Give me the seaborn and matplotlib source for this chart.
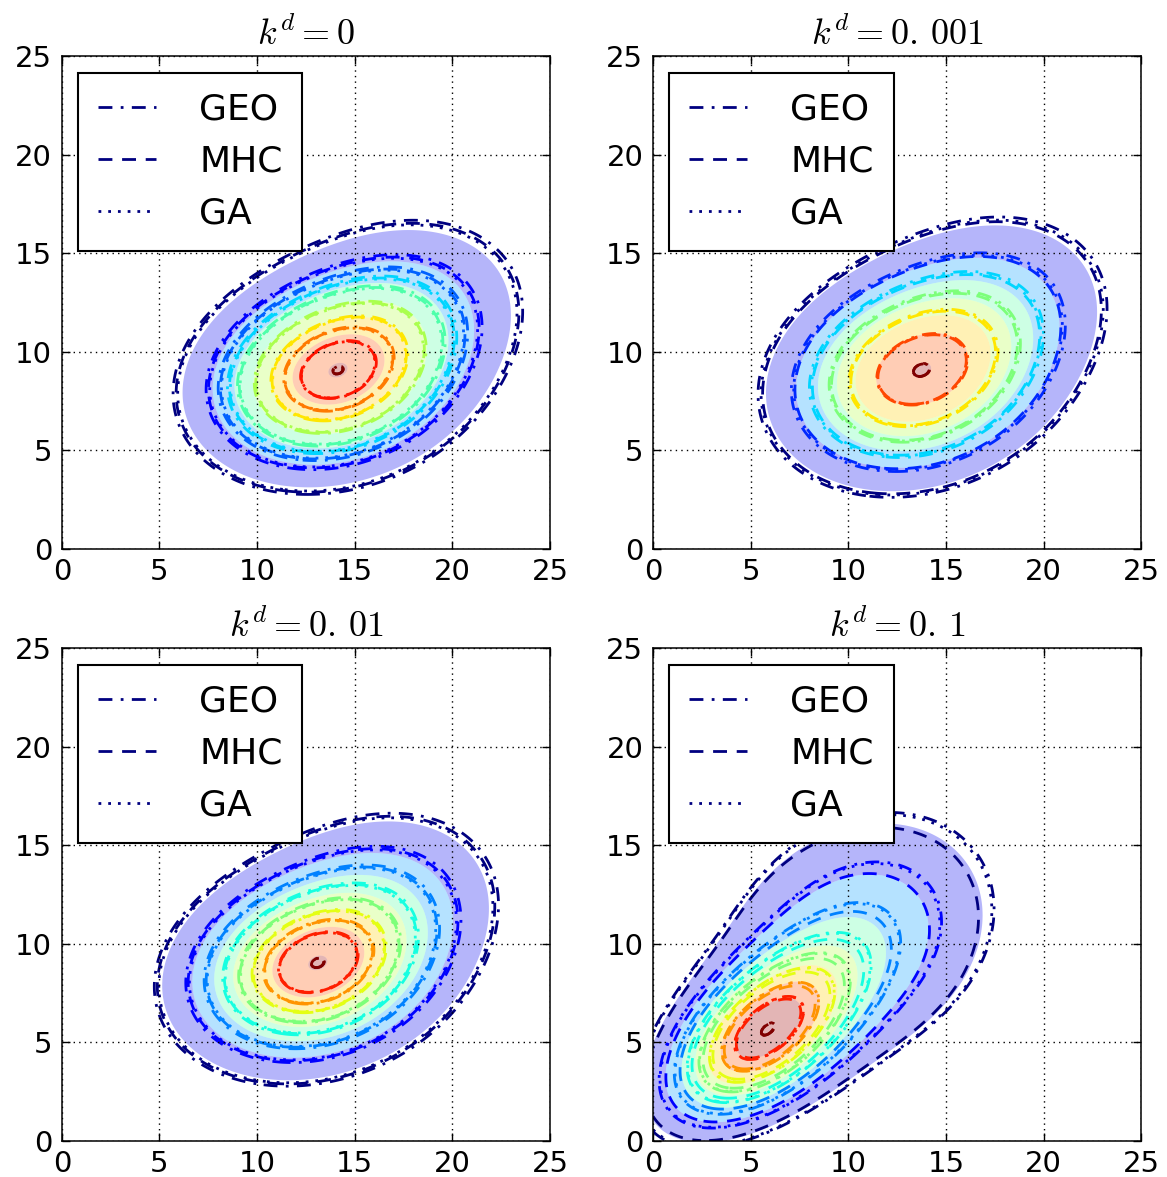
import numpy as np
import matplotlib
matplotlib.use("Agg")
import matplotlib.pyplot as plt
import seaborn as sns
from matplotlib.lines import Line2D

# ---------------- data ----------------
kd_values = ["0", "0.001", "0.01", "0.1"]
methods = ["GEO", "MHC", "GA"]

# core component of each panel's density (innermost rings)
core_x = [13.7, 13.3, 12.65, 5.5]
core_y = [8.7, 8.7, 8.65, 5.3]
core_sx = [3.9, 3.9, 3.9, 3.0]
core_sy = [2.9, 3.0, 2.9, 2.7]
core_rho = [0.15, 0.15, 0.15, 0.50]
core_w = [0.75, 0.75, 0.75, 0.50]

# broad component (outer bulge towards the upper right)
broad_x = [17.6, 17.4, 16.5, 10.5]
broad_y = [12.2, 12.3, 12.2, 10.3]
broad_sx = [4.1, 4.1, 4.0, 4.6]
broad_sy = [3.2, 3.3, 3.2, 4.2]
broad_rho = [0.15, 0.15, 0.15, 0.20]

# spread of each method's density relative to the shaded density
geo_spread = [1.02, 1.02, 1.02, 1.05]
mhc_spread = [1.00, 0.99, 1.00, 0.98]
ga_spread = [0.99, 1.00, 0.99, 1.04]

# contour-line levels (fraction of the peak density), one list per panel
levels_kd0 = [0.12, 0.26, 0.33, 0.39, 0.46, 0.585, 0.71, 0.80, 0.90, 0.998]
levels_kd1 = [0.125, 0.27, 0.38, 0.52, 0.67, 0.86, 0.995]
levels_kd2 = [0.125, 0.26, 0.37, 0.50, 0.62, 0.72, 0.80, 0.89, 0.997]
levels_kd3 = [0.125, 0.24, 0.35, 0.46, 0.57, 0.67, 0.78, 0.88, 0.995]
line_levels = [levels_kd0, levels_kd1, levels_kd2, levels_kd3]

# shaded bands: level of the top band (fraction of the peak), 7 bands each
fill_top = [0.993, 0.993, 0.993, 0.880]
n_bands = 7
band_colors = [0.10, 0.28, 0.45, 0.57, 0.69, 0.82, 0.97]

# ---------------- style ----------------
sns.set_style("ticks")
plt.rcParams.update({
    "font.family": ["DejaVu Sans"],
    "mathtext.fontset": "cm",
    "text.color": "black",
    "axes.labelcolor": "black",
    "xtick.direction": "in",
    "ytick.direction": "in",
    "xtick.top": True,
    "ytick.right": True,
    "xtick.major.size": 6,
    "ytick.major.size": 6,
    "xtick.major.width": 1.0,
    "ytick.major.width": 1.0,
    "axes.linewidth": 1.1,
    "axes.edgecolor": "black",
    "xtick.color": "black",
    "ytick.color": "black",
})

line_styles = [(0, (5, 3, 1, 3)), (0, (5, 3.5)), (0, (1, 2.5))]
spreads = [geo_spread, mhc_spread, ga_spread]

gx = np.linspace(0, 25, 301)
X, Y = np.meshgrid(gx, gx)


def gauss(U, V, mx, my, sx, sy, rho):
    du = (U - mx) / sx
    dv = (V - my) / sy
    z = (du ** 2 - 2 * rho * du * dv + dv ** 2) / (1 - rho ** 2)
    return np.exp(-z / 2) / (2 * np.pi * sx * sy * np.sqrt(1 - rho ** 2))


def density(p, spread):
    U = core_x[p] + (X - core_x[p]) / spread
    V = core_y[p] + (Y - core_y[p]) / spread
    d = core_w[p] * gauss(U, V, core_x[p], core_y[p], core_sx[p], core_sy[p], core_rho[p])
    d += (1 - core_w[p]) * gauss(U, V, broad_x[p], broad_y[p], broad_sx[p], broad_sy[p], broad_rho[p])
    return d


fig, axes = plt.subplots(2, 2, figsize=(11.67, 11.77), dpi=100)
fig.subplots_adjust(left=0.053, right=0.978, top=0.952, bottom=0.031,
                    wspace=0.211, hspace=0.203)
jet = plt.get_cmap("jet")
fill_cols = [jet(v) for v in band_colors]

for p, ax in enumerate(axes.flat):
    base = density(p, 1.0)
    peak = base.max()
    step = fill_top[p] / n_bands
    fill_lv = [step * (i + 1) for i in range(n_bands)] + [1.5]
    ax.contourf(X, Y, base / peak, levels=fill_lv, colors=fill_cols,
                alpha=0.29, antialiased=True)
    lv = line_levels[p]
    cols = [jet(v) for v in np.linspace(0, 1, len(lv))]
    for m in range(3):
        d = density(p, spreads[m][p]) / peak
        ax.contour(X, Y, d, levels=lv, colors=cols, linewidths=2.0,
                   linestyles=[line_styles[m]])
    ax.set_xlim(0, 25)
    ax.set_ylim(0, 25)
    ax.set_xticks(range(0, 26, 5))
    ax.set_yticks(range(0, 26, 5))
    ax.tick_params(labelsize=21, pad=7, labelcolor="black")
    ax.grid(True, color="black", linestyle=(0, (1, 3)), linewidth=1.0)
    ax.set_axisbelow(False)
    ax.set_title(r"$k^d = %s$" % kd_values[p].replace(".", r".\,"),
                 fontsize=26, pad=8)
    handles = [Line2D([], [], color=jet(0.0), lw=2.0, ls=line_styles[m])
               for m in range(3)]
    leg = ax.legend(handles, methods, loc="upper left", fontsize=26,
                    fancybox=False, framealpha=1.0, edgecolor="black",
                    handlelength=1.6, handletextpad=1.2, borderpad=0.55,
                    labelspacing=0.5, borderaxespad=0.45)
    leg.get_frame().set_linewidth(1.5)

fig.savefig("out.png", dpi=100, facecolor="white")
